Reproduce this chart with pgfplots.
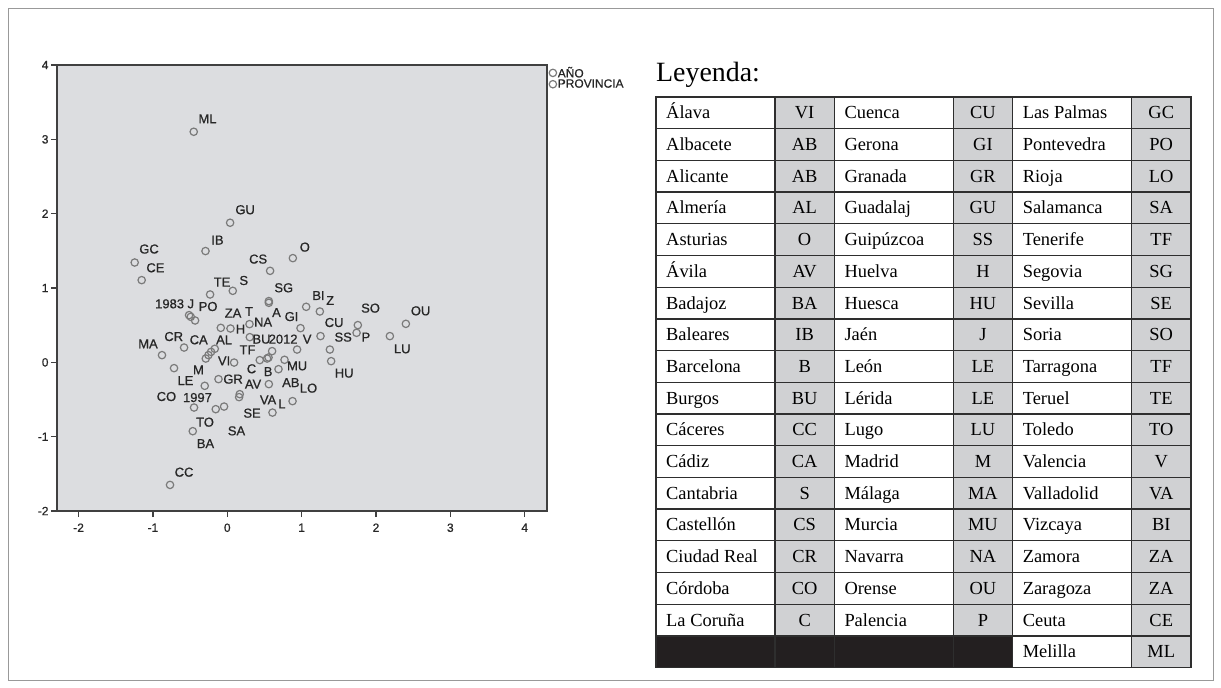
\documentclass[border=0pt]{standalone}
\usepackage{pgfplots}
\pgfplotsset{compat=1.18}
\usepackage{fontspec}
\setmainfont{Liberation Serif}
\newfontfamily\arialf[FakeBold=0.7]{Liberation Sans}
\definecolor{plotbg}{HTML}{DCDDE0}
\definecolor{ptc}{HTML}{7A7A7A}
\definecolor{labc}{HTML}{262626}
\definecolor{framec}{HTML}{404040}
\definecolor{cellg}{HTML}{D0D1D3}
\definecolor{tline}{HTML}{2E2E2E}
\definecolor{blk}{HTML}{231F20}

\begin{document}
\begin{tikzpicture}
\useasboundingbox (0,0) rectangle (1221bp,-688bp);
\begin{scope}[x=1bp,y=-1bp]
\draw[gray!80, line width=1bp] (8,8) rectangle (1213,680);
% ---------- table ----------
\def\rh{31.7}
\node[anchor=base west, inner sep=0pt, font=\fontsize{28}{28}\selectfont] at (656,81) {Leyenda:};
\foreach \gx in {656,834.3,1012.6}{
  \fill[cellg] ({\gx+119},97) rectangle ({\gx+178.3},{97+18*\rh});
}
\fill[blk] (656,{97+17*\rh}) rectangle (1012.6,{97+18*\rh});
\foreach \r in {1,...,17}{
  \draw[tline, line width=1.3bp] (656,{97+\r*\rh}) -- (1190.9,{97+\r*\rh});
}
\foreach \vx in {775,834.3,953.3,1012.6,1131.6}{
  \draw[tline, line width=1.3bp] (\vx,97) -- (\vx,{97+18*\rh});
}
\draw[tline, line width=1.6bp] (656,97) rectangle (1190.9,{97+18*\rh});
\foreach \nm/\cd [count=\i from 0] in {Álava/VI,Albacete/AB,Alicante/AB,Almería/AL,Asturias/O,Ávila/AV,Badajoz/BA,Baleares/IB,Barcelona/B,Burgos/BU,Cáceres/CC,Cádiz/CA,Cantabria/S,Castellón/CS,Ciudad Real/CR,Córdoba/CO,La Coruña/C}{
  \node[anchor=base west, inner sep=0pt, font=\fontsize{18.5}{18.5}\selectfont] at (666,{97+(\i+0.5)*\rh+6}) {\nm};
  \node[anchor=base, inner sep=0pt, font=\fontsize{18.5}{18.5}\selectfont] at (804.65,{97+(\i+0.5)*\rh+6}) {\cd};
}
\foreach \nm/\cd [count=\i from 0] in {Cuenca/CU,Gerona/GI,Granada/GR,Guadalaj/GU,Guipúzcoa/SS,Huelva/H,Huesca/HU,Jaén/J,León/LE,Lérida/LE,Lugo/LU,Madrid/M,Málaga/MA,Murcia/MU,Navarra/NA,Orense/OU,Palencia/P}{
  \node[anchor=base west, inner sep=0pt, font=\fontsize{18.5}{18.5}\selectfont] at (844.3,{97+(\i+0.5)*\rh+6}) {\nm};
  \node[anchor=base, inner sep=0pt, font=\fontsize{18.5}{18.5}\selectfont] at (982.95,{97+(\i+0.5)*\rh+6}) {\cd};
}
\foreach \nm/\cd [count=\i from 0] in {Las Palmas/GC,Pontevedra/PO,Rioja/LO,Salamanca/SA,Tenerife/TF,Segovia/SG,Sevilla/SE,Soria/SO,Tarragona/TF,Teruel/TE,Toledo/TO,Valencia/V,Valladolid/VA,Vizcaya/BI,Zamora/ZA,Zaragoza/ZA,Ceuta/CE,Melilla/ML}{
  \node[anchor=base west, inner sep=0pt, font=\fontsize{18.5}{18.5}\selectfont] at (1022.6,{97+(\i+0.5)*\rh+6}) {\nm};
  \node[anchor=base, inner sep=0pt, font=\fontsize{18.5}{18.5}\selectfont] at (1161.25,{97+(\i+0.5)*\rh+6}) {\cd};
}
\end{scope}
% ---------- scatter ----------
\begin{axis}[
  at={(57bp,-511bp)}, anchor=south west,
  scale only axis, width=490bp, height=446bp,
  xmin=-2.29, xmax=4.30, ymin=-2, ymax=4,
  xtick={-2,-1,0,1,2,3,4}, ytick={-2,-1,0,1,2,3,4},
  tick pos=left, tick align=outside, major tick length=6bp,
  every tick/.style={framec, line width=1.2bp},
  axis line style={framec, line width=2bp},
  axis background/.style={fill=plotbg},
  ticklabel style={font=\arialf\fontsize{12}{12}\selectfont, text=labc},
  xticklabel style={yshift=-3bp},
  yticklabel style={xshift=1bp},
  /pgf/number format/assume math mode=true,
  legend style={at={(1,1)}, anchor=north west, xshift=2bp, yshift=-0.5bp, draw=none, fill=none,
    font=\arialf\fontsize{12}{12}\selectfont, text=labc, inner sep=0pt, row sep=-2bp,
    nodes={inner sep=1.2bp}},
  legend cell align=left,
  legend image code/.code={\draw[#1] plot coordinates {(3.5bp,0bp)};},
  clip=false,
]
\addplot[only marks, mark=o, mark size=3.7bp, mark options={draw=ptc, line width=1.2bp}] coordinates {
(-0.514,0.635) (-0.303,-0.316) (0.939,0.172)
};
\addlegendentry{AÑO}
\addplot[only marks, mark=o, mark size=3.7bp, mark options={draw=ptc, line width=1.2bp}] coordinates {
(-0.451,3.102) (0.038,1.878) (-0.293,1.497) (-1.245,1.343) (-1.151,1.106)
(0.882,1.402) (0.576,1.231) (-0.231,0.913) (0.074,0.962) (0.559,0.824)
(0.559,0.801) (1.061,0.747) (1.245,0.684) (-0.491,0.612) (-0.433,0.563)
(-0.087,0.464) (0.043,0.455) (0.299,0.514) (0.985,0.460) (0.303,0.339)
(1.254,0.353) (1.380,0.172) (1.756,0.501) (1.739,0.397) (2.187,0.353)
(2.402,0.518) (1.397,0.016) (0.770,0.034) (0.603,0.151) (0.437,0.030)
(0.536,0.051) (0.555,0.065) (0.689,-0.092) (0.092,-0.003) (-0.289,0.051)
(-0.253,0.097) (-0.218,0.141) (-0.168,0.182) (-0.581,0.199) (-0.878,0.097)
(-0.716,-0.078) (-0.118,-0.226) (0.559,-0.293) (0.168,-0.428) (0.159,-0.468)
(-0.447,-0.608) (-0.155,-0.630) (-0.043,-0.595) (0.608,-0.676) (0.878,-0.522)
(-0.464,-0.926) (-0.770,-1.649)
};
\addlegendentry{PROVINCIA}
\addplot[draw=none, mark=none, forget plot, nodes near coords, point meta=explicit symbolic,
  every node near coord/.append style={anchor=center, inner sep=0pt, text=labc,
  font=\arialf\fontsize{13}{13}\selectfont}] table[meta=lab] {
x y lab
-0.266 3.277 ML
0.240 2.053 GU
-0.132 1.645 IB
-1.052 1.524 GC
-0.966 1.272 CE
1.043 1.550 O
0.415 1.389 CS
-0.070 1.079 TE
0.222 1.101 S
0.760 1.003 SG
1.227 0.899 BI
1.384 0.832 Z
-0.775 0.787 1983
-0.491 0.787 J
-0.258 0.751 PO
0.078 0.662 ZA
0.293 0.684 T
0.482 0.541 NA
0.662 0.670 A
0.864 0.616 GI
0.178 0.447 H
0.460 0.312 BU
0.751 0.312 2012
1.074 0.312 V
1.437 0.536 CU
1.559 0.339 SS
1.864 0.339 P
1.927 0.729 SO
2.600 0.693 OU
2.353 0.182 LU
1.572 -0.145 HU
-1.066 0.249 MA
-0.720 0.347 CR
-0.384 0.303 CA
-0.043 0.303 AL
0.272 0.168 TF
-0.043 0.020 VI
0.326 -0.087 C
0.549 -0.124 B
0.939 -0.047 MU
-0.388 -0.101 M
-0.563 -0.245 LE
0.078 -0.226 GR
0.347 -0.293 AV
0.855 -0.272 AB
1.093 -0.347 LO
-0.818 -0.460 CO
-0.401 -0.474 1997
0.549 -0.505 VA
0.734 -0.559 L
0.334 -0.684 SE
-0.299 -0.805 TO
0.124 -0.922 SA
-0.293 -1.093 BA
-0.581 -1.478 CC
};
\end{axis}
\end{tikzpicture}
\end{document}
